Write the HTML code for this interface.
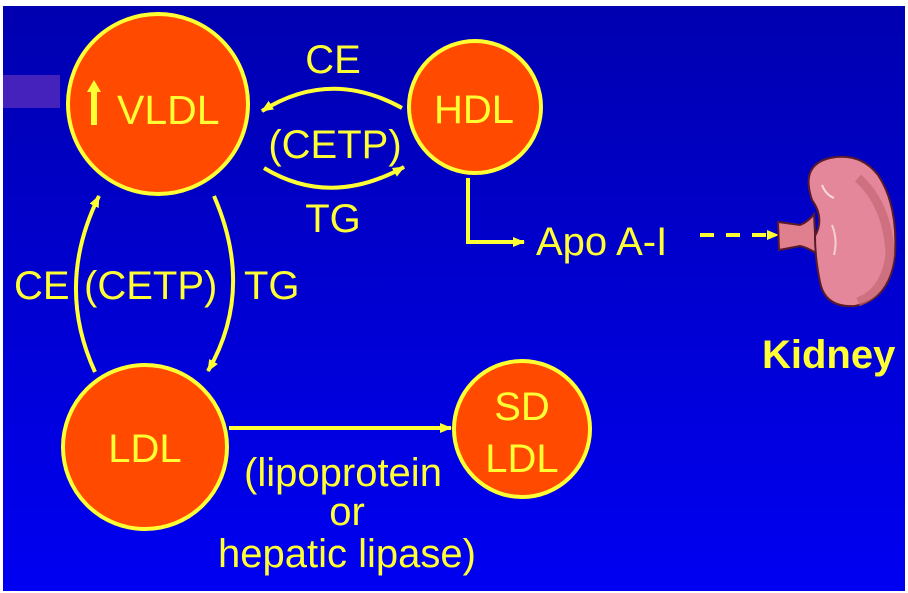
<!DOCTYPE html>
<html><head><style>
html,body{margin:0;padding:0;background:#fff;}
svg{display:block;}
text{font-family:"Liberation Sans",sans-serif;fill:#ffff33;}
</style></head><body>
<svg width="908" height="593" viewBox="0 0 908 593" xmlns="http://www.w3.org/2000/svg">
<defs>
<linearGradient id="bg" x1="0" y1="0" x2="0" y2="1">
<stop offset="0" stop-color="#0000b0"/>
<stop offset="1" stop-color="#0000f2"/>
</linearGradient>
<marker id="ah" markerWidth="14" markerHeight="14" refX="11" refY="6" orient="auto" markerUnits="userSpaceOnUse">
<path d="M0,1 L12,6 L0,11 Z" fill="#ffff33"/>
</marker>
</defs>
<rect x="3" y="6" width="902" height="585" fill="url(#bg)"/>
<rect x="3" y="75" width="57" height="33" fill="#4422bb"/>
<g fill="#ff4a00" stroke="#ffff33" stroke-width="4">
<circle cx="158" cy="104" r="90"/>
<circle cx="475" cy="107" r="66"/>
<circle cx="145" cy="447" r="82"/>
<circle cx="522" cy="429" r="68"/>
</g>
<g fill="none" stroke="#ffff33" stroke-width="4" marker-end="url(#ah)">
<path d="M402,108 Q330,68 262,111"/>
<path d="M264,168 Q330,208 404,167"/>
<path d="M95,372 Q55,285 99,196"/>
<path d="M214,196 Q255,290 208,371"/>
<path d="M229,428 L451,428"/>
<path d="M468,178 L468,242 L524,242"/>
<path d="M700,235 L778,235" stroke-dasharray="14,12"/>
</g>
<path d="M94,125 L94,90" stroke="#ffff33" stroke-width="6"/>
<path d="M87,92 L94,80 L101,92 Z" fill="#ffff33"/>
<text x="117" y="124" font-size="41">VLDL</text>
<text x="474" y="123" font-size="40" text-anchor="middle">HDL</text>
<text x="145" y="462" font-size="40" text-anchor="middle">LDL</text>
<text x="522" y="420" font-size="40" text-anchor="middle">SD</text>
<text x="522" y="472" font-size="40" text-anchor="middle">LDL</text>
<text x="333" y="73" font-size="40" text-anchor="middle">CE</text>
<text x="335" y="158" font-size="40" text-anchor="middle">(CETP)</text>
<text x="333" y="232" font-size="40" text-anchor="middle">TG</text>
<text x="14" y="299" font-size="40">CE</text>
<text x="84" y="299" font-size="40">(CETP)</text>
<text x="244" y="299" font-size="40">TG</text>
<text x="536" y="255" font-size="40">Apo A-I</text>
<text x="343" y="486" font-size="40" text-anchor="middle">(lipoprotein</text>
<text x="347" y="525" font-size="40" text-anchor="middle">or</text>
<text x="347" y="567" font-size="40" text-anchor="middle">hepatic lipase)</text>
<text x="762" y="368" font-size="40" font-weight="bold">Kidney</text>
<g stroke="#5a1a2a" stroke-width="2">
<path d="M778,222 L800,225 Q808,222 814,214 L816,253 Q806,247 800,246 L779,250 Z" fill="#e0808f"/>
<path d="M830,158 Q860,152 878,175 Q898,205 895,255 Q890,300 855,306 Q825,308 820,282 Q815,258 815,236 Q825,218 812,200 Q800,165 830,158 Z" fill="#e5879a"/>
</g>
<path d="M858,178 Q888,205 890,255 Q885,292 858,302" fill="none" stroke="#c06070" stroke-width="9" opacity="0.6"/>
<path d="M822,185 Q826,195 834,198" fill="none" stroke="#fff" stroke-width="2" opacity="0.7"/>
<path d="M832,225 Q838,240 834,255" fill="none" stroke="#fff" stroke-width="2" opacity="0.6"/>
</svg>
</body></html>
